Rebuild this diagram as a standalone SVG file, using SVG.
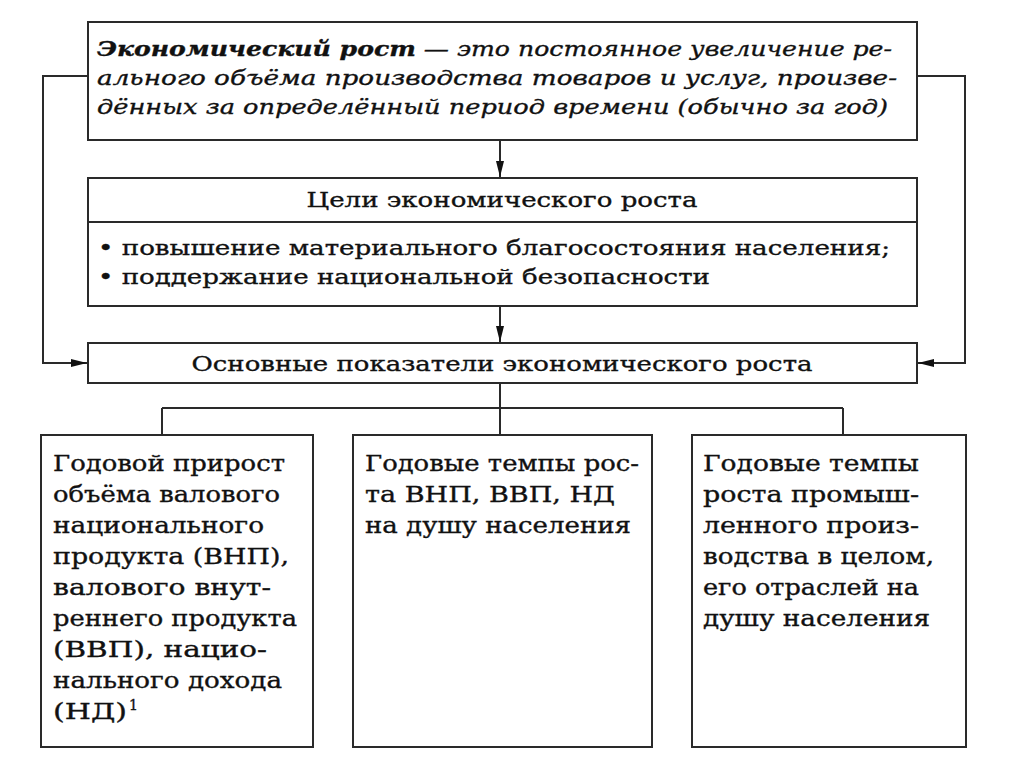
<svg xmlns="http://www.w3.org/2000/svg" width="1024" height="767" viewBox="0 0 1024 767">
<style>
.box{fill:#fff;stroke:#2a2a2a;stroke-width:2}
.ln{fill:none;stroke:#2a2a2a;stroke-width:2}
.t{font-family:"DejaVu Serif","Liberation Serif",serif;fill:#111;stroke:#111;stroke-width:0.35}
.tt{font-size:21px;font-style:italic}
.mid{font-size:21px}
.bot{font-size:22px}
</style>
<defs>
<marker id="ah" viewBox="0 0 16 8" refX="16" refY="4" markerWidth="16" markerHeight="8" markerUnits="userSpaceOnUse" orient="auto">
<path d="M0,0 L16,4 L0,8 Z" fill="#111"/>
</marker>
</defs>
<rect width="1024" height="767" fill="#fff"/>
<g id="connectors">
<path class="ln" d="M500,140 V177" marker-end="url(#ah)"/>
<path class="ln" d="M500,306 V342" marker-end="url(#ah)"/>
<path class="ln" d="M88,76 H43 V363 H87" marker-end="url(#ah)"/>
<path class="ln" d="M917,76 H965 V363 H918" marker-end="url(#ah)"/>
<path class="ln" d="M500,383 V408 M162,408 H843 M162,408 V435 M500,408 V435 M843,408 V435"/>
</g>
<g id="definition">
<rect class="box" x="88" y="22" width="829" height="118"/>
<text class="t tt" x="97" y="56" textLength="795" lengthAdjust="spacingAndGlyphs"><tspan font-weight="bold">Экономический рост</tspan> — это постоянное увеличение ре-</text>
<text class="t tt" x="97" y="85" textLength="800" lengthAdjust="spacingAndGlyphs">ального объёма производства товаров и услуг, произве-</text>
<text class="t tt" x="97" y="114" textLength="791" lengthAdjust="spacingAndGlyphs">дённых за определённый период времени (обычно за год)</text>
</g>
<g id="goals">
<rect class="box" x="88" y="178" width="829" height="128"/>
<line class="ln" x1="88" y1="222" x2="917" y2="222"/>
<text class="t mid" x="502" y="207" text-anchor="middle" textLength="391" lengthAdjust="spacingAndGlyphs">Цели экономического роста</text>
<text class="t mid" x="98" y="255" textLength="792" lengthAdjust="spacingAndGlyphs">• повышение материального благосостояния населения;</text>
<text class="t mid" x="98" y="284" textLength="612" lengthAdjust="spacingAndGlyphs">• поддержание национальной безопасности</text>
</g>
<g id="indicators">
<rect class="box" x="88" y="343" width="829" height="40"/>
<text class="t mid" x="502" y="371" text-anchor="middle" textLength="621" lengthAdjust="spacingAndGlyphs">Основные показатели экономического роста</text>
</g>
<g id="ind1">
<rect class="box" x="41" y="435" width="272" height="312"/>
<text class="t bot" x="53" y="471" textLength="232" lengthAdjust="spacingAndGlyphs">Годовой прирост</text>
<text class="t bot" x="53" y="502" textLength="227" lengthAdjust="spacingAndGlyphs">объёма валового</text>
<text class="t bot" x="53" y="533" textLength="211" lengthAdjust="spacingAndGlyphs">национального</text>
<text class="t bot" x="53" y="564" textLength="236" lengthAdjust="spacingAndGlyphs">продукта (ВНП),</text>
<text class="t bot" x="53" y="595" textLength="218" lengthAdjust="spacingAndGlyphs">валового внут-</text>
<text class="t bot" x="53" y="626" textLength="244" lengthAdjust="spacingAndGlyphs">реннего продукта</text>
<text class="t bot" x="53" y="657" textLength="214" lengthAdjust="spacingAndGlyphs">(ВВП), нацио-</text>
<text class="t bot" x="53" y="688" textLength="229" lengthAdjust="spacingAndGlyphs">нального дохода</text>
<text class="t bot" x="53" y="719"><tspan textLength="74" lengthAdjust="spacingAndGlyphs">(НД)</tspan><tspan font-size="14" dx="2" dy="-9">1</tspan></text>
</g>
<g id="ind2">
<rect class="box" x="353" y="435" width="299" height="312"/>
<text class="t bot" x="365" y="471" textLength="274" lengthAdjust="spacingAndGlyphs">Годовые темпы рос-</text>
<text class="t bot" x="365" y="502" textLength="250" lengthAdjust="spacingAndGlyphs">та ВНП, ВВП, НД</text>
<text class="t bot" x="365" y="533" textLength="266" lengthAdjust="spacingAndGlyphs">на душу населения</text>
</g>
<g id="ind3">
<rect class="box" x="692" y="435" width="274" height="312"/>
<text class="t bot" x="703" y="471" textLength="216" lengthAdjust="spacingAndGlyphs">Годовые темпы</text>
<text class="t bot" x="703" y="502" textLength="216" lengthAdjust="spacingAndGlyphs">роста промыш-</text>
<text class="t bot" x="703" y="533" textLength="216" lengthAdjust="spacingAndGlyphs">ленного произ-</text>
<text class="t bot" x="703" y="564" textLength="231" lengthAdjust="spacingAndGlyphs">водства в целом,</text>
<text class="t bot" x="703" y="595" textLength="216" lengthAdjust="spacingAndGlyphs">его отраслей на</text>
<text class="t bot" x="703" y="626" textLength="227" lengthAdjust="spacingAndGlyphs">душу населения</text>
</g>
</svg>
